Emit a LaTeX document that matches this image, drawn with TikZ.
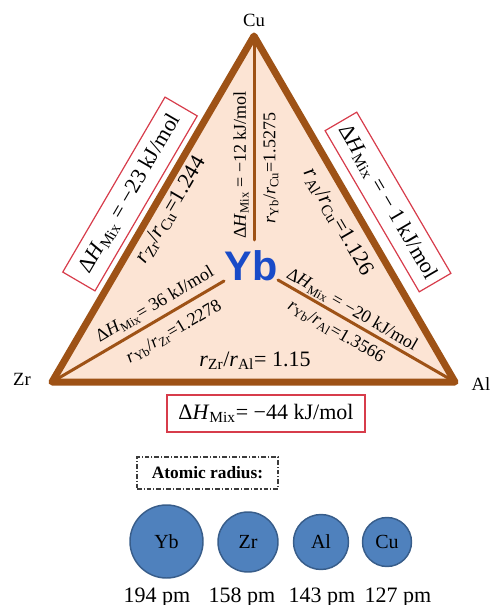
\documentclass[tikz,border=0pt]{standalone}
\usepackage{fontspec}
\setmainfont{Liberation Serif}
\newfontfamily\ybfont{Liberation Sans}
\definecolor{edgebrown}{RGB}{158,82,22}
\definecolor{peach}{RGB}{252,228,212}
\definecolor{boxred}{RGB}{215,60,75}
\definecolor{ybblue}{RGB}{25,75,200}
\definecolor{atomfill}{RGB}{79,129,189}
\definecolor{atomline}{RGB}{56,93,138}
\definecolor{dashgray}{RGB}{60,60,60}
\newcommand{\dH}{Δ\textit{H}\textsubscript{Mix}}
\newcommand{\rr}[1]{\textit{r}\textsubscript{#1}}
\newcommand{\fsz}[1]{\fontsize{#1}{#1}\selectfont}
\begin{document}
\begin{tikzpicture}[x=0.75pt,y=-0.75pt,
  vlbl/.style={inner sep=0pt, font=\fsz{14pt}},
  lbl/.style={inner sep=0pt, font=\fsz{13.5pt}},
  big/.style={inner sep=0pt, font=\fsz{16.5pt}},
  redbox/.style={draw=boxred, line width=0.9pt, inner sep=0pt, font=\fsz{16.5pt}},
  atom/.style={circle, fill=atomfill, draw=atomline, line width=1.1pt, inner sep=0pt, font=\fsz{15pt}},
  pm/.style={inner sep=0pt, font=\fsz{16.5pt}},
  edgeline/.style={draw=edgebrown, line width=5.25pt, line join=round, line cap=round},
  innerline/.style={draw=edgebrown, line width=2.25pt, line cap=round}
]
\useasboundingbox (0,0) rectangle (494,605);
\coordinate (Cu) at (254,36);
\coordinate (Zr) at (52,382);
\coordinate (Al) at (455,382);
\coordinate (mTop) at (254,240);
\coordinate (mLeft) at (224,281);
\coordinate (mRight) at (278,280);
\fill[peach] (Cu) -- (Zr) -- (Al) -- cycle;
\draw[innerline] (Cu) -- (mTop);
\draw[innerline] (Zr) -- (mLeft);
\draw[innerline] (Al) -- (mRight);
\draw[edgeline] (Cu) -- (Zr) -- (Al) -- cycle;

% vertex labels
\node[vlbl] (tCu) at (254,20) {Cu};
\node[vlbl] (tZr) at (22,379) {Zr};
\node[vlbl] (tAl) at (481,384) {Al};

% center
\node[inner sep=0pt, anchor=base, font=\ybfont\bfseries\fsz{31pt}, text=ybblue] (yb) at (251,281) {Yb};

% outer boxes
\node[redbox, rotate=59.7, minimum width=152pt, minimum height=28pt] (boxL) at (130,194) {\dH{} = −23 kJ/mol};
\node[redbox, rotate=-59.7, minimum width=140pt, minimum height=27.5pt] (boxR) at (388,202) {\dH{} = − 1 kJ/mol};
\node[redbox, minimum width=148.5pt, minimum height=27.75pt] (boxB) at (266,413.5) {\dH= −44 kJ/mol};

% inside edge labels
\node[big, rotate=59.7] (rL) at (171,210) {\rr{Zr}/\rr{Cu}=1.244};
\node[big, rotate=-59.7] (rR) at (338,222) {\rr{Al}/\rr{Cu}=1.126};
\node[big] (rB) at (255,361) {\rr{Zr}/\rr{Al}= 1.15};

% vertical line labels
\node[lbl, rotate=90] (hTop) at (241,165) {\dH{} = −12 kJ/mol};
\node[lbl, rotate=90] (rTop) at (271,168) {\rr{Yb}/\rr{Cu}=1.5275};

% left inner labels
\node[lbl, rotate=30.4] (hLeft) at (155,305) {\dH= 36 kJ/mol};
\node[lbl, rotate=30.4] (rLeft) at (174,332) {\rr{Yb}/\rr{Zr}=1.2278};

% right inner labels
\node[lbl, rotate=-30] (hRight) at (352,310) {\dH{} = −20 kJ/mol};
\node[lbl, rotate=-30] (rRight) at (336,332) {\rr{Yb}/\rr{Al}=1.3566};

% atomic radius
\node[draw=dashgray, line width=0.8pt, dash pattern=on 3.5pt off 1.5pt on 0.8pt off 1.5pt,
      minimum width=105.75pt, minimum height=24pt, inner sep=0pt, font=\bfseries\fsz{13pt}] (ar) at (207.5,473) {Atomic radius:};

\node[atom, minimum size=54.75pt] (aYb) at (166.5,541.5) {Yb};
\node[atom, minimum size=45pt] (aZr) at (248,542) {Zr};
\node[atom, minimum size=41.25pt] (aAl) at (321,542) {Al};
\node[atom, minimum size=36.75pt] (aCu) at (387,542) {Cu};

\node[pm, anchor=base] (pYb) at (157,602) {194 pm};
\node[pm, anchor=base] (pZr) at (242,602) {158 pm};
\node[pm, anchor=base] (pAl) at (322,602) {143 pm};
\node[pm, anchor=base] (pCu) at (398,602) {127 pm};
\end{tikzpicture}
\end{document}
